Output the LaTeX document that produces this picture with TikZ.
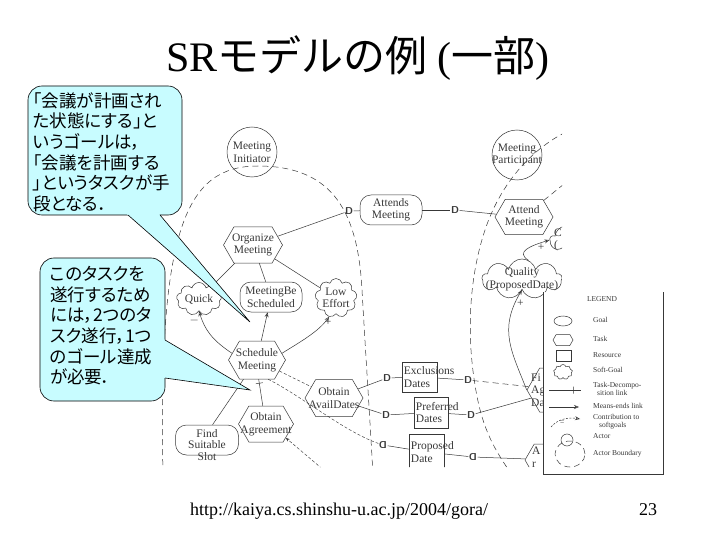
\documentclass[tikz,border=0pt]{standalone}
\usepackage{fontspec}
\setmainfont{Liberation Serif}
\newfontfamily\jfont{Noto Sans CJK JP}
\newfontfamily\jpfont[RawFeature=+palt]{Noto Sans CJK JP}
\usetikzlibrary{shapes.symbols,shapes.geometric,arrows.meta}
\definecolor{bubble}{RGB}{200,252,255}
\definecolor{scan}{gray}{0.22}

\begin{document}
\begin{tikzpicture}[x=1pt, y=-1pt,
  lbl/.style={font=\fontsize{11.5}{12.5}\selectfont, text=scan, align=center, inner sep=0},
  actor/.style={circle, draw=scan, line width=0.5pt, minimum size=50pt, inner sep=0, label={[lbl]center:#1}},
  goal/.style={rectangle, rounded corners=11pt, draw=scan, line width=0.5pt, inner sep=0, label={[lbl]center:#1}},
  task/.style={signal, signal to=east and west, signal pointer angle=120, draw=scan, line width=0.5pt, inner sep=0, label={[lbl]center:#1}},
  soft/.style={cloud, cloud puffs=9, cloud ignores aspect, draw=scan, line width=0.5pt, inner sep=0, label={[lbl]center:#1}},
  res/.style={rectangle, draw=scan, line width=0.5pt, inner sep=0, label={[lbl, align=left, anchor=west, xshift=2pt]west:#1}},
  dep/.style={font=\sffamily\bfseries\fontsize{10}{10}\selectfont, text=scan, inner sep=0.5pt},
  lnk/.style={draw=scan, line width=0.5pt},
  bnd/.style={draw=scan, line width=0.5pt, dash pattern=on 6pt off 4pt},
  fine/.style={draw=scan, line width=0.45pt, dash pattern=on 3pt off 2pt},
  me/.style={lnk, -{Stealth[open, length=5pt, width=4pt]}},
  tk/.style={sloped, draw=scan, line width=0.5pt, minimum width=0pt, minimum height=7pt, inner sep=0},
  leg/.style={font=\fontsize{7.5}{8}\selectfont, text=scan, align=left, inner sep=0, anchor=west},
  bubblebox/.style={fill=bubble, draw=black, line width=0.6pt},
  ctext/.style={font=\jpfont\fontsize{17.5}{20.7}\selectfont, align=left, inner sep=0, anchor=north west},
]
\path[use as bounding box, fill=white] (0,0) rectangle (720,540);

% title
\node[anchor=base] (title) at (358,72) {\fontsize{42}{50}\selectfont SR{\jfont モデルの例} ({\jfont 一部})};

% SR model
\begin{scope}
\clip (150,110) -- (562,110) -- (562,292) -- (543,292) -- (543,467) -- (150,467) -- cycle;
% actor boundaries
\draw[bnd] (163,475) .. controls (158,230) and (185,166) .. (258,166) .. controls (335,166) and (358,215) .. (362,290) .. controls (366,360) and (370,420) .. (373,475);
\draw[bnd] (566,132) .. controls (530,150) and (500,185) .. (485,230) .. controls (470,275) and (466,330) .. (475,385) .. controls (482,430) and (495,450) .. (512,475);

\node[actor={Meeting\\Initiator}] (init) at (252,152) {};
\node[actor={Meeting\\Participant}] (part) at (517,155) {};

\node[task={Organize\\Meeting}, minimum width=59pt, minimum height=36pt] (orgm) at (253,245) {};
\node[goal={Attends\\Meeting}, minimum width=62pt, minimum height=30pt] (attends) at (391,210) {};
\node[task={Attend\\Meeting}, minimum width=58pt, minimum height=35pt] (attend) at (524,217) {};
\node[soft={Quick}, minimum width=45pt, minimum height=33pt] (quick) at (199,299) {};
\node[goal={MeetingBe\\Scheduled}, minimum width=62pt, minimum height=30pt] (mbs) at (271,297) {};
\node[soft={Low\\Effort}, minimum width=42pt, minimum height=39pt] (low) at (336,298) {};
\node[task={Schedule\\Meeting}, minimum width=57pt, minimum height=38pt] (schm) at (257,360) {};
\node[task={Obtain\\AvailDates}, minimum width=58pt, minimum height=37pt] (obtav) at (334,398) {};
\node[task={Obtain\\Agreement}, minimum width=55pt, minimum height=36pt] (obtag) at (266,424) {};
\node[goal={}, minimum width=63pt, minimum height=30pt] (find) at (207,440) {};
\node[lbl, font=\fontsize{11.5}{11.5}\selectfont] (findt) at (207,445) {Find\\Suitable\\Slot};
\node[res={Exclusions\\Dates}, minimum width=35pt, minimum height=30pt] (excl) at (419.5,377) {};
\node[res={Preferred\\Dates}, minimum width=34pt, minimum height=31pt] (pref) at (431,412.5) {};
\node[res={Proposed\\Date}, minimum width=35pt, minimum height=36pt] (prop) at (426.5,452) {};
\node[soft={Quality\\(ProposedDate)}, minimum width=80pt, minimum height=40pt] (qual) at (522,279) {};
\node[soft={}, minimum width=80pt, minimum height=36pt] (cq) at (590,240) {};
\node[lbl, align=left, anchor=west] (cqt) at (554,240) {C\\(};
\node[task={}, minimum width=66pt, minimum height=44pt] (fiad) at (560,390) {};
\node[lbl, align=left, anchor=west] (fiadt) at (531,390) {Fi\\Ag\\Da};
\node[task={}, minimum width=60pt, minimum height=32pt] (ar) at (555,460) {};
\node[lbl, align=left, anchor=west] (art) at (532,457) {A\\r};

% dependencies
\node[dep] (d1) at (349,211) {D};
\node[dep] (d2) at (455,210) {D};
\node[dep] (d3) at (387,378) {D};
\node[dep] (d4) at (386,415) {D};
\node[dep] (d5) at (468,380) {D};
\node[dep] (d6) at (471,415) {D};
\node[dep] (q1) at (383,445) {\reflectbox{D}};
\node[dep] (q2) at (473,457) {\reflectbox{D}};

\draw[lnk] (orgm) -- (d1);
\draw[lnk] (d1) -- (attends);
\draw[lnk] (attends) -- (d2);
\draw[lnk] (d2) -- (attend);
\draw[lnk] (orgm) -- (quick);
\draw[lnk] (orgm) -- (mbs);
\draw[lnk] (orgm) -- (low);
\draw[me] (schm) -- (mbs);
\draw[me] (schm.165) .. controls (212,340) and (205,330) .. (quick.south) node[lbl, pos=0.93, below left=1pt] (cm1) {$-$};
\draw[me] (schm.15) .. controls (300,342) and (318,332) .. (low.250) node[lbl, pos=0.97, below=1pt] (cp1) {+};
\draw[lnk] (schm.235) -- node[tk, pos=0.12] (tk1) {} (find.70);
\draw[lnk] (schm.275) -- node[tk, pos=0.15] (tk2) {} (obtag.100);
\draw[fine] (schm) -- (obtav);
\draw[fine] (schm.300) .. controls (300,395) and (345,432) .. (q1);
\draw[lnk] (q1) -- (prop);
\coordinate (agin) at (326,472);
\draw[fine, -{Stealth[length=4pt]}] (agin) -- (obtag.-35);
\draw[lnk] (obtav) -- (d3);
\draw[lnk] (d3) -- (excl);
\draw[lnk] (obtav) -- (d4);
\draw[lnk] (d4) -- (pref);
\draw[lnk] (excl) -- (d5);
\draw[bnd] (d5) -- (fiad);
\draw[lnk] (pref) -- (d6);
\draw[lnk] (d6) -- (fiad);
\draw[lnk] (prop) -- (q2);
\draw[lnk] (q2) -- (ar);
\draw[me] (qual.70) .. controls (515,252) and (530,246) .. (cq.west) node[lbl, pos=0.85, below=1pt] (cp2) {+};
\draw[me] (fiad.west) .. controls (512,352) and (498,330) .. (qual.south) node[lbl, pos=0.88, right=2pt] (cp3) {+};
\coordinate (atf) at (564,184);
\draw[bnd] (attend.40) -- (atf);
\end{scope}

% legend
\draw[lnk] (543,292) -- (543,474) -- (663,474) -- (663,292);
\node[leg, anchor=base] (lgh) at (602,301) {LEGEND};
\node[ellipse, draw=scan, line width=0.5pt, minimum width=18pt, minimum height=10pt, inner sep=0] (lg1) at (563,321) {};
\node[leg] (lg1t) at (593,320) {Goal};
\node[task={}, minimum width=20pt, minimum height=11pt] (lg2) at (563,340) {};
\node[leg] (lg2t) at (593,339) {Task};
\node[res={}, minimum width=15pt, minimum height=11pt] (lg3) at (564,356) {};
\node[leg] (lg3t) at (593,355) {Resource};
\node[soft={}, minimum width=19pt, minimum height=15pt] (lg4) at (563,372) {};
\node[leg] (lg4t) at (593,370) {Soft-Goal};
\coordinate (lg5a) at (549,390);
\coordinate (lg5b) at (581,390);
\draw[lnk] (lg5a) -- node[tk, pos=0.75] (lg5k) {} (lg5b);
\node[leg] (lg5t) at (593,389) {Task-Decompo-\\\hspace{4pt}sition link};
\coordinate (lg6a) at (549,407);
\coordinate (lg6b) at (579,407);
\draw[me] (lg6a) -- (lg6b);
\node[leg] (lg6t) at (593,406) {Means-ends link};
\coordinate (lg7a) at (551,427);
\coordinate (lg7b) at (580,419);
\draw[me, dash pattern=on 2pt off 1.5pt] (lg7a) .. controls (558,419) and (568,417) .. (lg7b) node[leg, anchor=north, pos=0.45, yshift=-1pt] (lg7m) {=};
\node[leg] (lg7t) at (593,422) {Contribution to\\\hspace{6pt}softgoals};
\node[circle, draw=scan, line width=0.5pt, minimum size=12pt, inner sep=0] (lg8) at (567,440) {};
\node[leg] (lg8t) at (593,436) {Actor};
\node[ellipse, bnd, minimum width=30pt, minimum height=26pt, inner sep=0] (lg9) at (570,454) {};
\node[leg] (lg9t) at (593,454) {Actor Boundary};

% callout 1
\filldraw[bubblebox, rounded corners=14pt] (28,86) rectangle (182,215);
\fill[bubble] (124.6,212) -- (250,322) -- (157.5,212) -- cycle;
\draw[black, line width=0.6pt] (128,215) -- (250,322) -- (160,215);
\node[ctext] (c1) at (33,92) {「会議が計画され\\た状態にする」と\\いうゴールは，\\「会議を計画する\\」というタスクが手\\段となる．};

% callout 2
\filldraw[bubblebox, rounded corners=14pt] (40,258) rectangle (165,401);
\fill[bubble] (162,338.2) -- (250,390) -- (162,377.6) -- cycle;
\draw[black, line width=0.6pt] (165,340) -- (250,390) -- (165,378);
\node[ctext] (c2) at (50,266) {このタスクを\\遂行するため\\には，2つのタ\\スク遂行，1つ\\のゴール達成\\が必要．};

% footer
\node[anchor=base, font=\fontsize{18}{20}\selectfont] (url) at (339,515) {http://kaiya.cs.shinshu-u.ac.jp/2004/gora/};
\node[anchor=base, font=\fontsize{18}{20}\selectfont] (pg) at (648,515) {23};
\end{tikzpicture}
\end{document}
